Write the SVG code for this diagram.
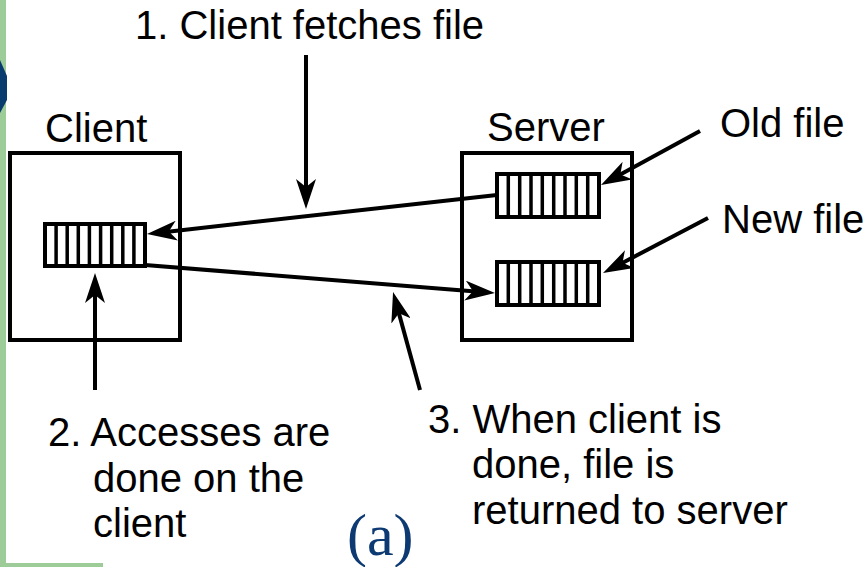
<svg xmlns="http://www.w3.org/2000/svg" width="864" height="567" viewBox="0 0 864 567">
  <style>
    .lbl { font-family: "Liberation Sans", Arial, Helvetica, sans-serif; font-size: 40px; fill: #000; }
    .cap { font-family: "Liberation Serif", "Times New Roman", serif; font-size: 60px; fill: #0d3a72; }
    .box { fill: none; stroke: #000; stroke-width: 4; }
    .file { fill: #fff; stroke: #000; stroke-width: 4; }
    .stripe { stroke: #000; stroke-width: 3.5; }
    .conn { fill: none; stroke: #000; stroke-width: 4; marker-end: url(#head); }
  </style>
  <defs>
    <marker id="head" viewBox="0 0 30 20" markerWidth="30" markerHeight="20" refX="20" refY="10" orient="auto" markerUnits="userSpaceOnUse">
      <path d="M0,0 L30,10 L0,20 L8,10 Z" fill="#000"/>
    </marker>
  </defs>

  <rect width="864" height="567" fill="#fff"/>

  <!-- slide frame accents -->
  <rect x="0" y="0" width="6" height="567" fill="#9dcc99"/>
  <rect x="0" y="563" width="103" height="4" fill="#9dcc99"/>
  <path d="M0,60 L7,76 L7,100 L0,113 Z" fill="#0a3b6e"/>

  <!-- client machine -->
  <g id="client">
    <rect class="box" x="10" y="153" width="170" height="187"/>
    <text class="lbl" x="45" y="142">Client</text>
    <g id="client-file">
      <rect class="file" x="45" y="224" width="100" height="42"/>
      <path class="stripe" d="M56.1,224V266M67.2,224V266M78.3,224V266M89.4,224V266M100.6,224V266M111.7,224V266M122.8,224V266M133.9,224V266"/>
    </g>
  </g>

  <!-- server machine -->
  <g id="server">
    <rect class="box" x="462" y="153" width="170" height="187"/>
    <text class="lbl" x="487" y="141">Server</text>
    <g id="old-file">
      <rect class="file" x="497" y="174" width="102" height="43"/>
      <path class="stripe" d="M508.3,174V217M519.7,174V217M531,174V217M542.3,174V217M553.7,174V217M565,174V217M576.3,174V217M587.7,174V217"/>
    </g>
    <g id="new-file">
      <rect class="file" x="497" y="262" width="102" height="43"/>
      <path class="stripe" d="M508.3,262V305M519.7,262V305M531,262V305M542.3,262V305M553.7,262V305M565,262V305M576.3,262V305M587.7,262V305"/>
    </g>
  </g>

  <!-- annotations -->
  <g id="label-fetch">
    <text class="lbl" x="135" y="39">1. Client fetches file</text>
  </g>
  <g id="label-access">
    <text class="lbl" x="48" y="446">2. Accesses are</text>
    <text class="lbl" x="93" y="492">done on the</text>
    <text class="lbl" x="93" y="537">client</text>
  </g>
  <g id="label-return">
    <text class="lbl" x="428" y="433">3. When client is</text>
    <text class="lbl" x="472" y="478">done, file is</text>
    <text class="lbl" x="472" y="524">returned to server</text>
  </g>
  <g id="label-old">
    <text class="lbl" x="720" y="137">Old file</text>
  </g>
  <g id="label-new">
    <text class="lbl" x="722" y="233">New file</text>
  </g>
  <g id="caption">
    <text class="cap" x="347" y="555">(a)</text>
  </g>

  <!-- connectors -->
  <g id="connectors">
    <line class="conn" x1="497" y1="195" x2="156.9" y2="232.9"/>
    <line class="conn" x1="145" y1="265" x2="485" y2="292.2"/>
    <line class="conn" x1="306" y1="55" x2="306" y2="199"/>
    <line class="conn" x1="95" y1="390" x2="95" y2="283"/>
    <line class="conn" x1="420" y1="390" x2="395.7" y2="301.6"/>
    <line class="conn" x1="700" y1="131" x2="609.8" y2="180.2"/>
    <line class="conn" x1="708" y1="218" x2="611.9" y2="268.4"/>
  </g>
</svg>
